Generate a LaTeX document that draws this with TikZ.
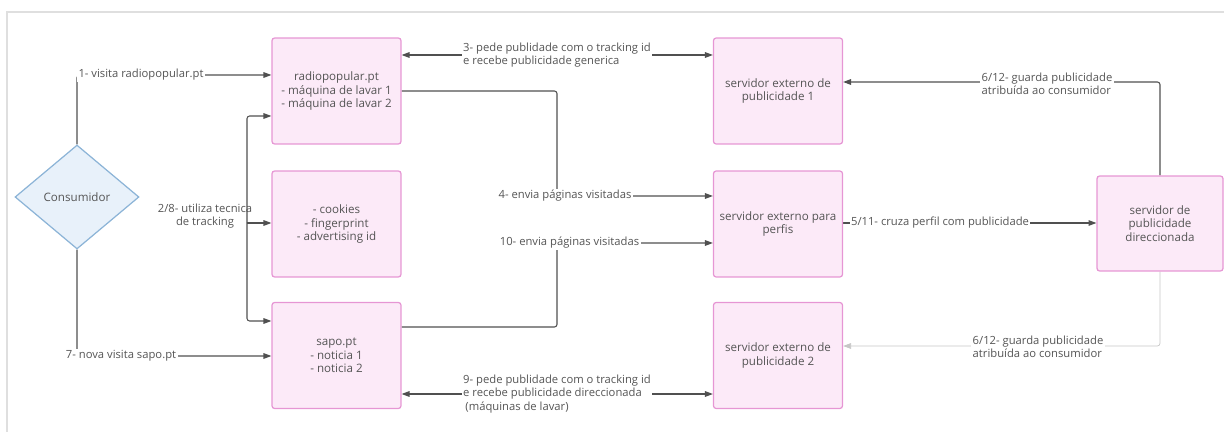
\documentclass[tikz,border=0pt]{standalone}
\usepackage{fontspec}
\setmainfont{Open Sans}
\usetikzlibrary{arrows.meta,shapes.geometric,backgrounds}
\definecolor{boxfill}{RGB}{252,234,248}
\definecolor{boxline}{RGB}{230,150,212}
\definecolor{userfill}{RGB}{232,241,250}
\definecolor{userline}{RGB}{140,180,215}
\definecolor{txt}{RGB}{85,85,85}
\definecolor{wire}{RGB}{80,80,80}
\tikzset{
  site/.style={draw=boxline, fill=boxfill, rounded corners=1.5pt, line width=0.7pt,
    minimum width=2.58cm, minimum height=2.12cm, align=center, text=txt,
    font=\fontsize{6.6}{7.7}\selectfont, inner sep=1pt},
  user/.style={diamond, draw=userline, fill=userfill, line width=0.7pt,
    minimum width=2.48cm, minimum height=2.08cm, text=txt,
    font=\fontsize{6.6}{7.7}\selectfont, inner sep=0pt},
  lbl/.style={fill=white, text=txt, align=left, inner sep=0.8pt,
    font=\fontsize{6.4}{7.6}\selectfont},
  arr/.style={draw=wire, line width=0.6pt, rounded corners=1.5pt,
    -{Triangle[length=4.5pt,width=3.2pt]}},
  arrtwo/.style={arr, {Triangle[length=4.5pt,width=3.2pt]}-{Triangle[length=4.5pt,width=3.2pt]}},
  arrlight/.style={arr, draw=gray!45, line width=0.4pt}
}
\begin{document}
\begin{tikzpicture}[x=0.02cm, y=-0.02cm]
\useasboundingbox (0,0) rectangle (1224,432);

\node[user] (cons) at (77,197) {Consumidor};
\node[site] (radio) at (336.5,91) {radiopopular.pt\\- máquina de lavar 1\\- máquina de lavar 2};
\node[site] (track) at (336.5,224) {- cookies\\- fingerprint\\- advertising id};
\node[site] (sapo) at (336.5,355.5) {sapo.pt\\- noticia 1\\- noticia 2};
\node[site] (pub1) at (778,91) {servidor externo de\\publicidade 1};
\node[site] (perfis) at (778,224) {servidor externo para\\perfis};
\node[site] (pub2) at (778,355.5) {servidor externo de\\publicidade 2};
\node[site, minimum width=2.52cm, minimum height=1.9cm] (direc) at (1160,223.5) {servidor de\\publicidade\\direccionada};

\node[lbl] (l1) at (141,75) {1- visita radiopopular.pt};
\node[lbl] (l7) at (121,356) {7- nova visita sapo.pt};
\node[lbl, fill=none, align=center] (l28) at (205,216) {2/8- utiliza tecnica\\de tracking};
\node[lbl] (l3) at (557,55) {3- pede publidade com o tracking id\\e recebe publicidade generica};
\node[lbl] (l4) at (565,196) {4- envia páginas visitadas};
\node[lbl] (l10) at (569.5,243) {10- envia páginas visitadas};
\node[lbl] (l511) at (940,223) {5/11- cruza perfil com publicidade};
\node[lbl] (l612a) at (1047,84) {6/12- guarda publicidade\\atribuída ao consumidor};
\node[lbl] (l612b) at (1038,347) {6/12- guarda publicidade\\atribuída ao consumidor};
\node[lbl] (l9) at (557,394) {9- pede publidade com o tracking id\\e recebe publicidade direccionada\\\hspace{0.2em}(máquinas de lavar)};

\begin{pgfonlayer}{background}
\draw[gray!25, line width=0.9pt] (7,432) -- (7,12) -- (1224,12);
\coordinate (trk) at (247,223);
\coordinate (trkA) at (247,116);
\coordinate (trkC) at (247,321);
\coordinate (b4) at (557,196);
\coordinate (b10) at (557,243);
\coordinate (g1) at (1160,82);
\coordinate (g2) at (1160,346);
\draw[arr] (cons.north) |- (l1 -| radio.west);
\draw[arr] (cons.south) |- (l7 -| sapo.west);
\draw[arr] (trk) |- (trkA -| radio.west);
\draw[arr] (trk) -- (trk -| track.west);
\draw[arr] (trk) |- (trkC -| sapo.west);
\draw[arrtwo] (l3 -| radio.east) -- (l3 -| pub1.west);
\draw[arr] (radio.east) -| (b4) -- (b4 -| perfis.west);
\draw[arr] ([yshift=0.57cm]sapo.east) -| (b10) -- (b10 -| perfis.west);
\draw[arr] (l511 -| perfis.east) -- (l511 -| direc.west);
\draw[arr] (direc.north) |- (g1 -| pub1.east);
\draw[arrlight] (direc.south) |- (g2 -| pub2.east);
\draw[arrtwo] (l9 -| sapo.east) -- (l9 -| pub2.west);
\end{pgfonlayer}
\end{tikzpicture}
\end{document}
